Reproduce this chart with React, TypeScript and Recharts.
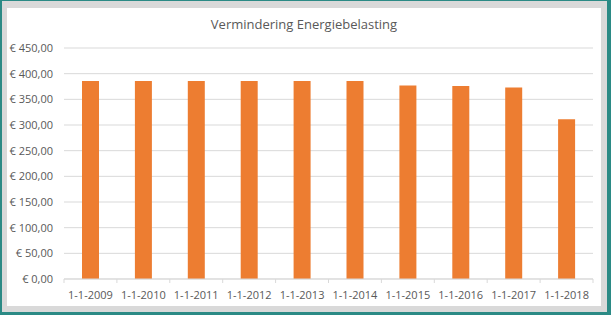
import { BarChart, Bar, XAxis, YAxis, CartesianGrid } from "recharts";

const dates = [
  "1-1-2009",
  "1-1-2010",
  "1-1-2011",
  "1-1-2012",
  "1-1-2013",
  "1-1-2014",
  "1-1-2015",
  "1-1-2016",
  "1-1-2017",
  "1-1-2018",
];
const vermindering = [385.5, 385.5, 385.5, 385.5, 385.5, 385.5, 377, 376, 373, 311];
const yTicks = [0, 50, 100, 150, 200, 250, 300, 350, 400, 450];

const data = dates.map((d, i) => ({ datum: d, waarde: vermindering[i] }));

const euro = (v: number) => "€ " + v.toFixed(2).replace(".", ",");

const FONT = "'Open Sans', sans-serif";
const TEXT = "#595959";
const HALF_BAND = 26.45;

const DateTick = (props: any) => {
  const { x, y, payload, index } = props;
  const base = y - 12;
  return (
    <g>
      <line x1={x - HALF_BAND} x2={x - HALF_BAND} y1={base} y2={base + 4} stroke="#d9d9d9" />
      {index === dates.length - 1 && (
        <line x1={x + HALF_BAND} x2={x + HALF_BAND} y1={base} y2={base + 4} stroke="#d9d9d9" />
      )}
      <text x={x} y={y} dy="0.71em" textAnchor="middle" fill={TEXT} fontSize={11} fontFamily={FONT}>
        {payload.value}
      </text>
    </g>
  );
};

export default function App() {
  return (
    <div
      style={{
        position: "absolute",
        left: 0,
        top: 0,
        width: 611,
        height: 315,
        background: "#2b8a85",
      }}
    >
      <div
        style={{
          position: "absolute",
          left: 2,
          top: 1,
          width: 605,
          height: 311,
          background: "#d9d9d9",
        }}
      >
        <div
          style={{
            position: "absolute",
            left: 5,
            top: 7,
            width: 594,
            height: 298,
            background: "#fff",
          }}
        >
          <div
            style={{
              position: "absolute",
              left: 0,
              top: 7,
              width: 594,
              textAlign: "center",
              fontFamily: FONT,
              fontSize: 13,
              color: TEXT,
            }}
          >
            Vermindering Energiebelasting
          </div>
          <BarChart
            width={594}
            height={298}
            data={data}
            margin={{ top: 40, right: 8, bottom: 7, left: 0 }}
          >
            <CartesianGrid vertical={false} stroke="#d9d9d9" />
            <XAxis
              dataKey="datum"
              stroke="#d9d9d9"
              tickLine={false}
              tickSize={6}
              tickMargin={6}
              height={20}
              interval={0}
              tick={<DateTick />}
            />
            <YAxis
              domain={[0, 450]}
              ticks={yTicks}
              tickFormatter={euro}
              axisLine={false}
              tickLine={false}
              tickSize={6}
              tickMargin={5}
              width={57}
              tick={{ fill: TEXT, fontSize: 11, fontFamily: FONT }}
            />
            <Bar dataKey="waarde" fill="#ed7d31" barSize={17} isAnimationActive={false} />
          </BarChart>
        </div>
      </div>
    </div>
  );
}
